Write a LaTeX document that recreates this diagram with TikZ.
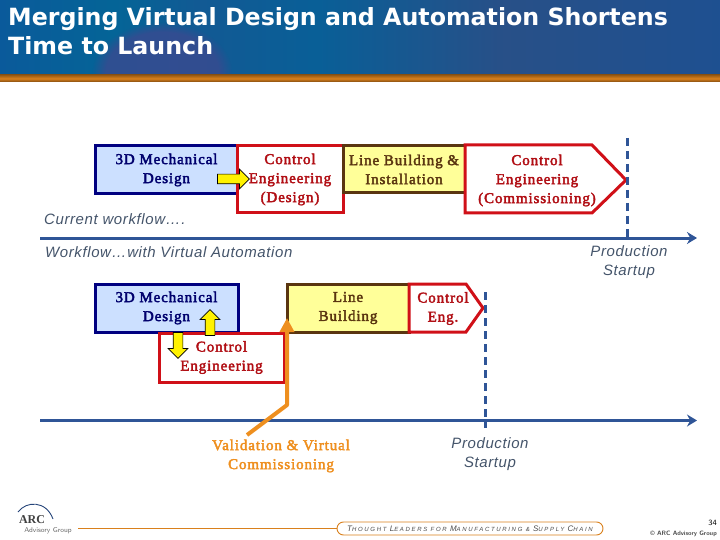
\documentclass[tikz,border=0pt]{standalone}
\usepackage{fontspec}
\setmainfont{Liberation Serif}
\newfontfamily\titlefont{DejaVu Sans}
\newfontfamily\notefont[LetterSpace=4]{Liberation Sans}
\newfontfamily\boxfont[LetterSpace=6,FakeBold=2.6]{Liberation Serif}
\newfontfamily\mottofont[LetterSpace=28]{Liberation Sans}
\usetikzlibrary{arrows.meta,shapes.arrows,fadings}
\definecolor{mechblue}{HTML}{000080}
\definecolor{mechfill}{HTML}{CCE0FF}
\definecolor{ctlred}{HTML}{D01018}
\definecolor{linebrown}{HTML}{5A3510}
\definecolor{linefill}{HTML}{FFFF99}
\definecolor{axisblue}{HTML}{2F5597}
\definecolor{notegrey}{HTML}{44546A}
\definecolor{valorange}{HTML}{EE8F1F}
\definecolor{barorange}{HTML}{D9801C}
\definecolor{bandviolet}{HTML}{3A4A90}
\pgfdeclarehorizontalshading{bandshade}{100bp}{
  color(0bp)=(rgb:red,11;green,96;blue,165);
  color(25bp)=(rgb:red,11;green,96;blue,165);
  color(33bp)=(rgb:red,5;green,125;blue,188);
  color(39bp)=(rgb:red,20;green,100;blue,165);
  color(47bp)=(rgb:red,10;green,108;blue,172);
  color(60bp)=(rgb:red,44;green,88;blue,150);
  color(75bp)=(rgb:red,30;green,80;blue,144);
  color(100bp)=(rgb:red,30;green,80;blue,144)}
\newcommand{\mottocap}[1]{{\fontsize{8}{8}\selectfont #1}}
\tikzset{
  blockbox/.style={draw, line width=3pt, inner sep=0pt, align=center,
    font=\fontsize{15}{19}\selectfont\boxfont},
  mechbox/.style={blockbox, draw=mechblue, fill=mechfill, text=mechblue!85!black,
    minimum width=143pt, minimum height=48pt},
  ctlbox/.style={blockbox, draw=ctlred, fill=white, text=ctlred!85!black},
  linebox/.style={blockbox, draw=linebrown, fill=linefill, text=linebrown},
  ctltext/.style={inner sep=0pt, align=center, text=ctlred!85!black,
    font=\fontsize{15}{19}\selectfont\boxfont},
  notetext/.style={inner sep=0pt, align=center, text=notegrey,
    font=\fontsize{15}{19}\selectfont\notefont\itshape},
  timeline/.style={draw=axisblue, line width=3pt, -{Stealth[length=10pt,width=12pt]}},
  launchline/.style={draw=axisblue, line width=3pt, dash pattern=on 8pt off 5pt},
  yellowarrow/.style={single arrow, draw=black, fill=yellow, line width=0.7pt, inner sep=4.5pt,
    single arrow head extend=5pt},
}
\begin{document}
\begin{tikzpicture}[x=1pt,y=-1pt]
  \useasboundingbox (0,0) rectangle (720,540);
  % ── title band ──
  \shade[shading=bandshade] (0,0) rectangle (720,76);
  \begin{scope}
    \clip (0,0) rectangle (720,76);
    \fill[bandviolet, opacity=0.8, path fading=circle with fuzzy edge 20 percent]
      (162,72) ellipse (70 and 50);
  \end{scope}
  \shade[top color=barorange!70!black, bottom color=barorange!60!black, middle color=barorange] (0,75) rectangle (720,82);
  \node[inner sep=0pt, anchor=base west, text=white, font=\fontsize{23.7}{29}\selectfont\titlefont\bfseries] (titleone) at (8,26) {Merging Virtual Design and Automation Shortens};
  \node[inner sep=0pt, anchor=base west, text=white, font=\fontsize{23.7}{29}\selectfont\titlefont\bfseries] (titletwo) at (8,55) {Time to Launch};
  % ── current workflow ──
  \node[mechbox] (mechtop) at (166.5,170) {3D Mechanical\\Design};
  \node[ctlbox, minimum width=106pt, minimum height=67pt] (ctltop) at (290,179.5) {Control\\Engineering\\(Design)};
  \node[linebox, minimum width=122pt, minimum height=47pt] (linetop) at (404,169.5) {Line Building \&\\Installation};
  \draw[ctlred, line width=3pt, fill=white, line join=miter] (465,145) -- (592,145) -- (626,180) -- (592,213) -- (465,213) -- cycle;
  \node[ctltext] (commtext) at (537,180.5) {Control\\Engineering\\(Commissioning)};
  \node[yellowarrow, minimum height=32pt] (arrowtop) at (231,179) {};
  \coordinate (axisonestart) at (40,238);
  \coordinate (axisoneend) at (697,238);
  \coordinate (launchonetop) at (627,138);
  \coordinate (launchonebot) at (627,238);
  \draw[launchline] (launchonetop) -- (launchonebot);
  \draw[timeline] (axisonestart) -- (axisoneend);
  \node[notetext, anchor=base west] (currentnote) at (44,225) {Current workflow….};
  \node[notetext, anchor=base west] (virtualnote) at (45,257) {Workflow…with Virtual Automation};
  \node[notetext] (startupone) at (629,262.5) {Production\\Startup};
  % ── workflow with virtual automation ──
  \node[mechbox] (mechlow) at (166.5,308) {3D Mechanical\\Design};
  \node[ctlbox, minimum width=125pt, minimum height=49pt] (ctllow) at (221.5,357.5) {Control\\Engineering};
  \node[linebox, minimum width=122pt, minimum height=48pt] (linelow) at (348,308) {Line\\Building};
  \draw[ctlred, line width=3pt, fill=white, line join=miter] (409,284) -- (466,284) -- (483,308) -- (466,332) -- (409,332) -- cycle;
  \node[ctltext] (engtext) at (443,308.5) {Control\\Eng.};
  \node[yellowarrow, minimum height=26pt, shape border rotate=270] (arrowdown) at (178,343) {};
  \node[yellowarrow, minimum height=26pt, shape border rotate=90] (arrowup) at (210,325) {};
  \coordinate (axistwostart) at (40,420.5);
  \coordinate (axistwoend) at (697,420.5);
  \coordinate (launchtwotop) at (485,292);
  \coordinate (launchtwobot) at (485,428);
  \draw[launchline] (launchtwotop) -- (launchtwobot);
  \draw[timeline] (axistwostart) -- (axistwoend);
  % ── validation arrow ──
  \coordinate (valstart) at (247,435);
  \coordinate (valbend) at (287,405);
  \coordinate (valend) at (287,318);
  \draw[valorange, line width=4pt, line join=round, -{Triangle[length=14pt,width=14pt]}] (valstart) -- (valbend) -- (valend);
  \node[ctltext, text=valorange] (valtext) at (281,456) {Validation \& Virtual\\Commissioning};
  \node[notetext] (startuptwo) at (490,454) {Production\\Startup};
  % ── footer ──
  \draw[axisblue!80!black, line width=0.9pt] (18,512) .. controls (26,501) and (46,500) .. (53,519);
  \node[inner sep=0pt, text=black!75, font=\fontsize{12}{12}\selectfont\bfseries] (arclogo) at (32,520) {ARC};
  \node[inner sep=0pt, text=black!60, font=\fontsize{7}{7}\selectfont\sffamily] (arcsub) at (48,531) {Advisory Group};
  \node[draw=barorange, line width=0.9pt, fill=white, rounded corners=6.5pt, minimum width=266pt, minimum height=13pt, inner sep=0pt,
    text=black!70, font=\fontsize{6}{8}\selectfont\mottofont\itshape] (motto) at (470,528.5)
    {\mottocap{T}HOUGHT \mottocap{L}EADERS FOR \mottocap{M}ANUFACTURING \& \mottocap{S}UPPLY \mottocap{C}HAIN};
  \coordinate (rulestart) at (78,528.5);
  \draw[barorange, line width=0.9pt] (rulestart) -- (motto.west);
  \node[inner sep=0pt, anchor=base east, font=\fontsize{8}{8}\selectfont\sffamily] (pagenum) at (717,525) {34};
  \node[inner sep=0pt, anchor=base east, text=black!70, font=\fontsize{6.3}{7}\selectfont\sffamily\bfseries] (copyline) at (717,535.5) {© ARC Advisory Group};
\end{tikzpicture}
\end{document}
